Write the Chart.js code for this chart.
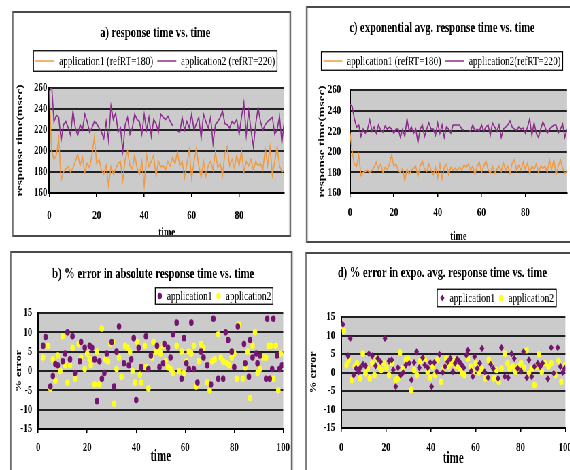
<!DOCTYPE html>
<html><head><meta charset="utf-8">
<script src="https://cdn.jsdelivr.net/npm/chart.js@4.4.1/dist/chart.umd.min.js"></script>
<style>
html,body{margin:0;padding:0;background:#fff;overflow:hidden;width:570px;height:470px;}
#wrap{position:absolute;left:0;top:0;height:470px;transform-origin:0 0;}
.panel{position:absolute;box-sizing:border-box;border:2px solid #4a4a4a;overflow:hidden;background:#fff;}
.panel canvas{position:absolute;left:-2px;top:-2px;}
</style></head><body><div id="wrap"></div>
<script>
// ---------- DATA ----------
const timeSteps = [0,1,2,3,4,5,6,7,8,9,10,11,12,13,14,15,16,17,18,19,20,21,22,23,24,25,26,27,28,29,30,31,32,33,34,35,36,37,38,39,40,41,42,43,44,45,46,47,48,49,50,51,52,53,54,55,56,57,58,59,60,61,62,63,64,65,66,67,68,69,70,71,72,73,74,75,76,77,78,79,80,81,82,83,84,85,86,87,88,89,90,91,92,93,94,95,96,97,98,99];

// a) response time vs. time
const aApp1 = [258,200,192,196,212,172,180,183,185,180,184,190,197,186,194,180,188,184,196,213,188,192,182,178,186,167,185,178,183,188,190,172,192,200,186,183,196,184,178,190,167,196,185,190,196,176,190,185,186,182,190,186,194,188,199,186,190,175,188,201,174,190,202,186,175,190,176,186,190,182,199,184,188,177,198,204,186,192,184,196,186,200,180,190,186,192,182,190,186,188,182,202,186,204,177,190,204,186,180,182];
const aApp2 = [255,263,228,234,232,210,225,228,222,215,238,222,215,225,220,235,228,218,222,228,226,222,218,212,228,210,243,230,236,218,222,200,225,232,216,222,235,230,228,216,235,220,232,214,230,226,218,235,232,230,233,228,224,null,219,218,232,220,228,222,235,220,226,232,212,235,228,222,232,207,225,228,232,238,226,225,222,228,226,230,216,232,246,215,238,220,204,226,241,228,220,225,228,230,232,216,220,233,208,228];

// c) exponential avg. response time vs. time
const cApp1 = [218,200,188,186,197,177,180,181,182,180,182,185,190,183,188,180,185,183,188,197,186,188,182,180,184,172,183,178,182,184,186,176,186,191,183,181,188,182,178,185,175,188,174,185,188,178,185,182,184,182,185,182,187,185,188,182,186,178,186,190,180,186,191,183,179,186,179,183,186,181,189,182,186,179,189,192,182,187,182,190,183,189,179,186,183,188,180,186,184,186,180,192,183,192,178,186,192,184,179,181];
const cApp2 = [246,244,232,224,226,215,222,218,222,231,220,224,218,226,221,219,225,222,224,222,218,222,222,214,222,215,232,220,224,218,222,209,222,226,215,222,228,222,222,216,228,218,226,214,224,222,218,226,226,226,226,222,221,null,221,220,226,220,222,220,226,220,224,226,216,228,224,220,226,214,222,224,226,230,224,222,221,224,222,223,218,224,232,216,228,218,214,222,229,224,218,222,224,226,226,218,222,227,214,222];

// b) % error in absolute response time vs. time
const bApp1X = [2,3,5,6,7,8,10,11,12,13,14,15,17,17.5,19,21,22,23,24,25,26,27,28,30,31,32,33,35,37,38,39,40,41,42,44,45,46,48.5,49.5,51,51.5,53,54,55,56.5,58.5,59.5,60.5,61.5,62.5,63.5,65,66.5,67.5,69,70.5,71.5,73.5,75.5,76.5,77.5,79,80,81.5,84,84.5,86,86.5,87.5,89,89.5,90.5,93,93.5,94.5,95.5,96,97.5,98.5,99.5];
const bApp1Y = [6.5,8.8,-4,-1.3,1.8,1.5,2.5,4.5,10,3,9,-0.5,2.5,7.5,6,6.5,6,3,-7.8,2.5,-2,-0.5,4.5,7.5,-4,5,11.5,2,1.5,3,8.5,-7.5,6,1,9,0.5,4,6.5,1,2,7,6,3.5,9.5,12.5,-2,8.5,2,0.5,12.5,0.5,-3,5,3.5,1.5,-3.5,13.5,-2,-2,10,8,5,1,11.5,7,2,-1.5,8,3.5,4.5,2,4,-2,13.5,-2,0.5,13.5,4,0.5,1.5];
const bApp2X = [2,4,5,6,7,8,9,10,11,12,13,14,15,16.5,17.5,19,20,21,21.5,23,24,25,26,27.5,28.5,29.5,30.5,31,32,33,34,35.5,36.5,37.5,38.5,39.5,40.5,41.5,42,43.5,44,45,46.5,47,48,49.5,50,51,52,53,54,55,56.5,57.5,58.5,59.5,60.5,61.5,62.5,63.5,64.5,65.5,66.5,67.5,69,70,71,72,73.5,74.5,75.5,77,78,79,80,81,82,83.5,84.5,85.5,86.5,87.5,88.5,89.5,90.5,92,93,94,95,96,97,98,99];
const bApp2Y = [3.5,6.5,-4.5,3,-2.5,4,0,9,1.5,-3,1.5,6,-2,7,3.5,0.5,4.5,3,1.5,-3.5,5,-3.5,11,3,2.5,7,7.5,-8.5,0.5,3.5,-1.5,6.5,6,5,0,-3,7.5,-1,-3,6.5,1,-4.5,3.5,7.5,5,5.5,4.5,6.5,2.5,1,0.5,-0.5,6.5,0,5,-0.5,2.5,5,4.5,6.5,-4,2.5,7,6,-3,-5,2.5,3,9.5,3.5,2.5,2,1.5,3.5,4.5,-2,12,-2,1,5,-7,6.5,10,-0.5,0.5,3.5,3.5,6.5,6.5,-2,6.5,-5,4.5];

// d) % error in expo. avg. response time vs. time
const dApp1X = [0.7,3,4,5.5,6.6,7.8,8.5,9.7,10.8,12.3,13.8,15.3,16.3,17.5,19.5,21.3,22.5,23.2,24.3,25.3,26.5,27.6,28.8,30.3,31.3,32.5,33.6,34.8,36.3,37.3,38.6,39.7,40.3,41.5,42.6,43.8,45.3,46.3,47.5,48.7,49.8,50.8,51.7,52.5,53.2,53.8,54.7,55.8,56.5,58,58.7,59.5,60.7,61.8,62.8,64,65.5,66.7,67.8,70,71.5,73,74.5,76,77.2,78.7,80.2,81.3,82.8,83.8,85,86.2,87.7,88.8,89.8,92.2,93.7,94.8,96.6,97.8,98.8,99.7];
const dApp1Y = [13,4.5,9.2,-0.7,1.1,0.2,1.3,2.2,1.8,5.1,4.5,1.8,3.8,2.9,9.2,3.1,3.4,0.7,-3.8,1.3,-0.7,0,2,2.5,-2,2.7,5.6,1.3,4,2,1.3,2.7,-3.8,2.7,0.2,4.9,0,1.6,2.9,3.8,0.2,2.5,3.6,3.1,2.5,2,1.3,4.7,6,0.4,-1.1,4.3,1.1,2.5,6.5,0.2,-1.4,2.2,1.1,-1.6,6.7,-1.1,-1.4,5.1,3.8,1.1,0.4,5.6,-1.4,3.4,-1.1,1.6,2.5,1.6,2.5,-1.7,6.7,-0.2,6.7,1.6,0,1.1];
const dApp2X = [0,1.2,2.3,3.3,4.8,6,7,8.5,9.6,10.8,11.8,12.7,13.8,14.8,15.7,16.8,17.8,19,20.2,21.3,22.8,24.3,25.3,26.2,27.3,28.8,29.8,31.3,32.5,33.7,35.2,36.3,37.3,38.5,39.7,40.8,41.8,43,44.5,45.7,46.8,47.8,49,50.2,51.3,52.8,54,55,56.5,57.7,58.8,60,61.3,62.8,64.3,65.8,67,68.2,69.3,70.3,71.5,73,74.2,75.2,76.5,77.8,79,80.2,81.5,82.7,83.8,85,86.2,87.2,88.3,89.5,91,92.5,93.7,95.5,97,98.2,99.2,100];
const dApp2Y = [12.5,11.2,2,3.4,-2,1.6,2.5,-1.6,5.1,-0.2,1,-1.6,2.5,-0.7,3.8,1.6,0.7,2.5,1.3,-0.7,2.5,-2,-1.7,5.4,1.1,3.4,3.8,-4.7,0.7,-0.7,3.1,3.6,3.4,0.2,-1.4,1.6,-0.7,3.4,-2.5,1.1,3.8,1.6,2.5,3.4,1.8,1.3,-0.2,-0.7,3.8,1.6,0.2,2.5,0,1.1,-1.6,3.4,2,-1.6,0.7,-2.5,1.1,5.1,2.5,1.1,1.6,0.2,1.6,2.5,1.3,6,-0.2,1.1,-3.4,1.6,4.9,0.2,2.5,1.6,2.5,-0.7,3.1,-2.5,1.1,2];

// text
const titles = {
  a: 'a) response time vs. time',
  b: 'b) % error in absolute response time vs. time',
  c: 'c) exponential avg. response time vs. time',
  d: 'd) % error in expo. avg. response time vs. time'
};
const lineLegendA = ['application1 (refRT=180)', 'application2 (refRT=220)'];
const lineLegendC = ['application1 (refRT=180)', 'application2(refRT=220)'];
const scatterLegend = ['application1', 'application2'];
const yTitleRT = 'response time(msec)';
const yTitleErr = '% error';
const xTitle = 'time';

// ---------- STYLE / LAYOUT ----------
const S = 0.68;               // horizontal condensing of the whole figure
const V = x => x / S;
const ORANGE = '#F29A40', PURPLE_LINE = '#8C2C8C', PURPLE_DOT = '#74156F', YELLOW = '#FFFF1E';
const PLOT_BG = '#CBCBCB';

Chart.defaults.font.family = "'Liberation Serif','Times New Roman',serif";
Chart.defaults.color = '#000';

const wrap = document.getElementById('wrap');
wrap.style.width = V(570) + 'px';
wrap.style.transform = 'scaleX(' + S + ')';

const plotBg = {
  id: 'plotBg',
  beforeDraw(chart) {
    const {ctx, chartArea: a} = chart;
    ctx.save(); ctx.fillStyle = PLOT_BG;
    ctx.fillRect(a.left, a.top, a.right - a.left, a.bottom - a.top);
    ctx.restore();
  }
};
const legendFrame = {
  id: 'legendFrame',
  afterDraw(chart, args, o) {
    const lg = chart.legend; if (!lg || !lg.legendHitBoxes) return;
    let l = Infinity, r = -Infinity, t = Infinity, b = -Infinity;
    lg.legendItems.forEach((it, i) => {
      if (it.dummy) return;
      const h = lg.legendHitBoxes[i];
      l = Math.min(l, h.left); r = Math.max(r, h.left + h.width);
      t = Math.min(t, h.top); b = Math.max(b, h.top + h.height);
    });
    const ctx = chart.ctx; ctx.save();
    ctx.strokeStyle = '#000'; ctx.lineWidth = 1.3;
    ctx.strokeRect(l - o.mx, t - o.my, r - l + 2 * o.mx, b - t + 2 * o.my);
    ctx.restore();
  }
};
function labelsWithDummy(chart) {
  const items = Chart.defaults.plugins.legend.labels.generateLabels(chart);
  items.push({text: '', fillStyle: 'rgba(0,0,0,0)', strokeStyle: 'rgba(0,0,0,0)', lineWidth: 0,
              hidden: false, pointStyle: 'circle', rotation: 0, datasetIndex: -1, dummy: true});
  return items;
}

function build(spec) {
  const W = Math.round(V(spec.box.R - spec.box.L));
  const H = spec.H;
  const fT = 15.5, lhT = fT * 1.2, fL = 13.5, fTick = 13, lhTick = fTick * 1.2, tickLen = 4;
  const lhY = spec.yTitleSize * 1.2, lhX = spec.xTitleSize * 1.2;
  const p = spec.legendP;
  const L = spec.box.L, T = spec.box.T;
  const titleXr = V(spec.titleX - L), titleYr = spec.titleY - T, legYr = spec.legendY - T;
  const plotLr = V(spec.plot.l - L), plotRr = V(spec.plot.r - L);
  const plotTr = spec.plot.t - T, plotBr = spec.plot.b - T;
  const isLine = spec.kind === 'line';
  const boxW = isLine ? 28 : 8;
  let padL, padR;
  const endAlign = spec.legendAlign === 'end';
  if (!endAlign) {
    padR = 0; padL = 2 * titleXr - W;
    if (padL < 0) { padR = -padL; padL = 0; }
  } else {
    const dW = boxW + fL / 2;
    const itemsR = V(spec.legendRight - L);
    padR = W - 2 * p - dW - itemsR;
    padL = 2 * titleXr - W + padR;
  }
  const spacerR = Math.max(0, W - padR - plotRr);
  const yAxisW = plotLr - padL;

  const panel = document.createElement('div');
  panel.className = 'panel';
  panel.style.left = V(L) + 'px';
  panel.style.top = T + 'px';
  panel.style.width = W + 'px';
  panel.style.height = (spec.box.B - T) + 'px';
  const cv = document.createElement('canvas');
  cv.width = W; cv.height = H;
  panel.appendChild(cv); wrap.appendChild(panel);

  const legendLabels = isLine
    ? {usePointStyle: true, pointStyle: 'line', pointStyleWidth: boxW, padding: p, font: {size: fL}, color: '#000'}
    : {usePointStyle: true, boxWidth: boxW, boxHeight: 4.5, padding: p, font: {size: fL}, color: '#000', generateLabels: labelsWithDummy};

  new Chart(cv, {
    type: isLine ? 'line' : 'scatter',
    data: {datasets: spec.datasets},
    options: {
      responsive: false, animation: false, devicePixelRatio: 1,
      layout: {padding: {left: padL, right: padR, top: 0, bottom: 0}},
      plugins: {
        title: {display: true, text: spec.title, color: '#000', font: {size: fT, weight: 'bold'},
                padding: {top: titleYr - lhT / 2, bottom: legYr - p - fL / 2 - (titleYr + lhT / 2)}},
        subtitle: {display: true, text: '', font: {size: 1}, weight: 500,
                   padding: {top: plotTr - (legYr + fL / 2 + 10) - 1.2, bottom: 0}},
        legend: {display: true, position: 'top', align: endAlign ? 'end' : 'center', labels: legendLabels},
        tooltip: {enabled: false},
        legendFrame: spec.frame
      },
      scales: {
        x: {type: 'linear', position: 'bottom', min: 0, max: spec.xMax,
            ticks: {stepSize: 20, includeBounds: false, autoSkip: false, maxRotation: 0,
                    padding: (spec.xticksY - spec.plot.b) - tickLen - lhTick / 2,
                    font: {size: fTick, weight: 'bold'}, color: '#000'},
            grid: {display: true, drawOnChartArea: false, drawTicks: true, tickLength: tickLen, color: '#000', lineWidth: 1.5},
            border: {display: true, color: '#000', width: 2},
            title: {display: true, text: xTitle, color: '#000', font: {size: spec.xTitleSize, weight: 'bold'},
                    padding: {top: 0, bottom: H - (spec.xtitleY - T) - lhX / 2}},
            afterFit(s) { s.height = H - plotBr; s.paddingLeft = 0; s.paddingRight = 0; }},
        y: {type: 'linear', position: 'left', min: spec.yMin, max: spec.yMax,
            ticks: {stepSize: spec.yStep, autoSkip: false, padding: plotLr - V(spec.ytickRight - L),
                    font: {size: fTick, weight: 'bold'}, color: '#000'},
            grid: {color: '#222', lineWidth: 2, drawTicks: false},
            border: {display: true, color: '#000', width: 2},
            title: {display: true, text: spec.yTitle, color: '#000', font: {size: spec.yTitleSize, weight: 'bold'},
                    padding: {top: V(spec.ytitleX - L) - padL - lhY / 2, bottom: 0}},
            afterFit(s) { s.width = yAxisW; s.paddingTop = 0; s.paddingBottom = 0; }},
        sp: {type: 'linear', position: 'right', display: true,
             grid: {display: false}, ticks: {display: false}, border: {display: false},
             afterFit(s) { s.width = spacerR; s.paddingTop = 0; s.paddingBottom = 0; }}
      }
    },
    plugins: [plotBg, legendFrame]
  });
}

const pts = (xs, ys) => xs.map((x, i) => ({x: x, y: ys[i]}));
const lineDs = (label, ys, color) => ({label, data: pts(timeSteps, ys), borderColor: color, backgroundColor: color,
  borderWidth: 1.6, pointRadius: 0, tension: 0, spanGaps: false});
const dotDs = (label, xs, ys, color, style, r) => ({label, data: pts(xs, ys), backgroundColor: color, borderColor: color,
  borderWidth: 0, pointRadius: r, pointStyle: style});

build({kind: 'line', title: titles.a, box: {L: 12, T: 11, R: 291, B: 237}, plot: {l: 49, t: 88, r: 284, b: 193},
  titleX: 155, titleY: 33, legendY: 61, legendAlign: 'center', legendP: 6, frame: {mx: 3, my: 3.5},
  ytitleX: 20, ytickRight: 47, xticksY: 216, xtitleY: 233, H: 240, yTitleSize: 13, xTitleSize: 13,
  yMin: 160, yMax: 260, yStep: 20, xMax: 99, yTitle: yTitleRT,
  datasets: [lineDs(lineLegendA[0], aApp1, ORANGE), lineDs(lineLegendA[1], aApp2, PURPLE_LINE)]});

build({kind: 'line', title: titles.c, box: {L: 306, T: 6, R: 578, B: 243}, plot: {l: 350, t: 90, r: 567, b: 193},
  titleX: 442, titleY: 28, legendY: 61, legendAlign: 'center', legendP: 6, frame: {mx: 3, my: 2.5},
  ytitleX: 322, ytickRight: 341, xticksY: 213, xtitleY: 237, H: 245, yTitleSize: 13, xTitleSize: 13,
  yMin: 160, yMax: 260, yStep: 20, xMax: 99, yTitle: yTitleRT,
  datasets: [lineDs(lineLegendC[0], cApp1, ORANGE), lineDs(lineLegendC[1], cApp2, PURPLE_LINE)]});

build({kind: 'scatter', title: titles.b, box: {L: 10, T: 251, R: 292, B: 480}, plot: {l: 38, t: 313, r: 283, b: 429},
  titleX: 153, titleY: 274, legendY: 296, legendAlign: 'end', legendRight: 271, legendP: 5, frame: {mx: 2.5, my: 1.5},
  ytitleX: 19, ytickRight: 32, xticksY: 448, xtitleY: 457, H: 225, yTitleSize: 12, xTitleSize: 16,
  yMin: -15, yMax: 15, yStep: 5, xMax: 100, yTitle: yTitleErr,
  datasets: [dotDs(scatterLegend[0], bApp1X, bApp1Y, PURPLE_DOT, 'circle', 3.3),
             dotDs(scatterLegend[1], bApp2X, bApp2Y, YELLOW, 'circle', 3.3)]});

build({kind: 'scatter', title: titles.d, box: {L: 305, T: 252, R: 578, B: 480}, plot: {l: 341, t: 317, r: 565, b: 428},
  titleX: 442, titleY: 273, legendY: 298, legendAlign: 'end', legendRight: 553.5, legendP: 5, frame: {mx: 3.5, my: 2},
  ytitleX: 313, ytickRight: 335, xticksY: 448, xtitleY: 459, H: 225, yTitleSize: 12, xTitleSize: 16,
  yMin: -15, yMax: 15, yStep: 5, xMax: 100, yTitle: yTitleErr,
  datasets: [dotDs(scatterLegend[0], dApp1X, dApp1Y, PURPLE_DOT, 'rectRot', 3.6),
             dotDs(scatterLegend[1], dApp2X, dApp2Y, YELLOW, 'circle', 3.3)]});
</script>
</body></html>
